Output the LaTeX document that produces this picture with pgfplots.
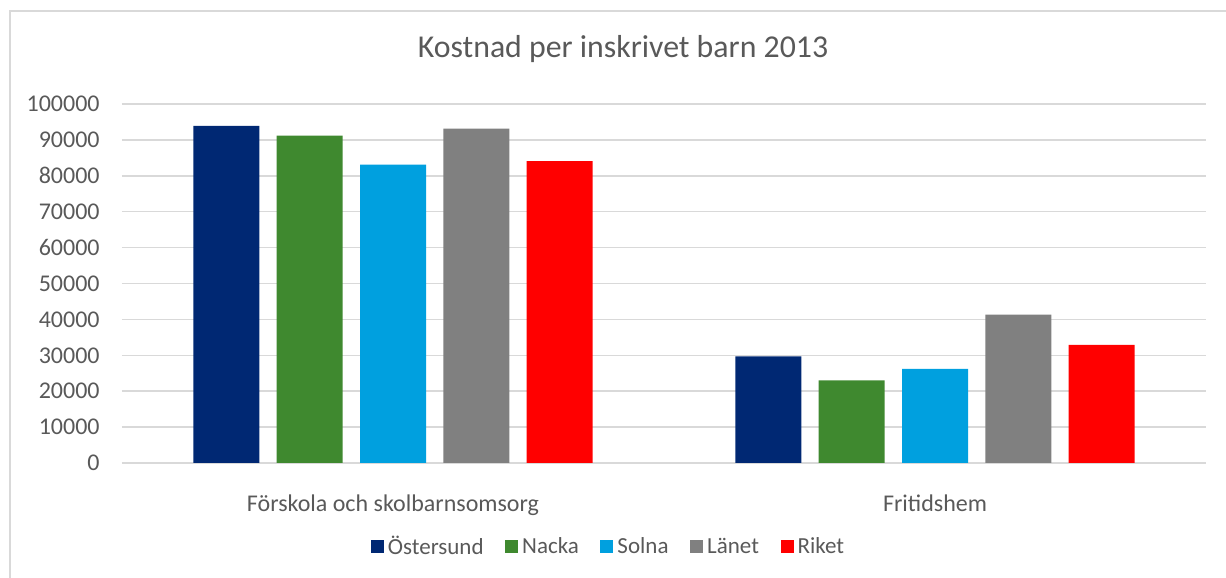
\documentclass[border=0pt]{standalone}
\usepackage{fontspec}
\setmainfont{Carlito}
\usepackage{pgfplots}
\pgfplotsset{compat=1.18}
\definecolor{cOst}{RGB}{0,40,115}
\definecolor{cNac}{RGB}{63,137,47}
\definecolor{cSol}{RGB}{0,160,223}
\definecolor{cLan}{RGB}{128,128,128}
\definecolor{cRik}{RGB}{255,0,0}
\definecolor{gridgray}{RGB}{217,217,217}
\definecolor{txtgray}{RGB}{89,89,89}
\definecolor{bordergray}{RGB}{217,217,217}
\begin{document}
\begin{tikzpicture}
\useasboundingbox (0,0) rectangle (613pt,289pt);
\draw[bordergray, line width=0.6pt] (5pt,-5pt) -- (5pt,283.5pt) -- (620pt,283.5pt);
\node[font=\fontsize{15.9}{18}\selectfont, text=txtgray, anchor=base] at (311.5pt,260pt) {Kostnad per inskrivet barn 2013};
\begin{axis}[
  at={(61pt,57.5pt)}, anchor=south west,
  width=542pt, height=179.5pt, scale only axis,
  ybar=8.65pt, bar width=33pt,
  xmin=-0.5, xmax=1.5, ymin=0, ymax=100000,
  xtick={0,1}, xticklabels={Förskola och skolbarnsomsorg, Fritidshem},
  ytick={0,10000,...,100000},
  scaled y ticks=false,
  /pgf/number format/.cd, fixed, 1000 sep={}, assume math mode=true,
  /pgfplots/.cd,
  ymajorgrids, grid style={gridgray, line width=0.75pt},
  axis line style={draw=none}, major tick style={draw=none},
  tick label style={font=\fontsize{12}{14}\selectfont, text=txtgray},
  yticklabel style={anchor=east, inner sep=0pt, xshift=-11pt},
  xticklabel style={anchor=base, inner sep=0pt, yshift=-20pt},
  legend columns=-1,
  legend style={at={(0.4497,-0.234)}, anchor=center, draw=none, fill=none,
    font=\fontsize{11.5}{14}\selectfont, text=txtgray,
    /tikz/every even column/.append style={column sep=8.8pt},
    nodes={inner xsep=2pt, inner ysep=1pt}},
  legend image code/.code={\fill[#1] (0pt,-2.8pt) rectangle (6.5pt,3.7pt);},
]
\addplot[fill=cOst, draw=none] coordinates {(0,93900) (1,29700)};
\addplot[fill=cNac, draw=none] coordinates {(0,91200) (1,23000)};
\addplot[fill=cSol, draw=none] coordinates {(0,83100) (1,26250)};
\addplot[fill=cLan, draw=none] coordinates {(0,93150) (1,41300)};
\addplot[fill=cRik, draw=none] coordinates {(0,84100) (1,32900)};
\legend{Östersund, Nacka, Solna, Länet, Riket}
\end{axis}
\end{tikzpicture}
\end{document}
